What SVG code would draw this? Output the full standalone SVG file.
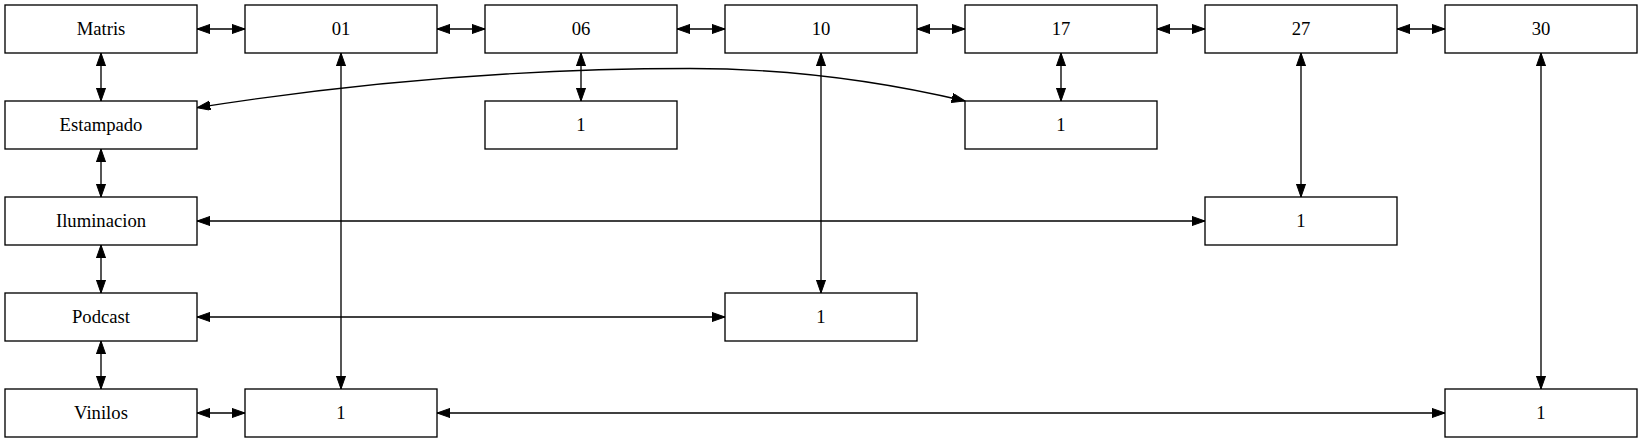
<svg xmlns="http://www.w3.org/2000/svg" width="1643" height="443" viewBox="0 0 1643 443">
<style>
.n rect{fill:#fff;stroke:#000;stroke-width:1.33}
.n text{font-family:"Liberation Serif","Times New Roman",serif;font-size:18.67px;text-anchor:middle;fill:#000}
.e path{fill:none;stroke:#000;stroke-width:1.33;marker-start:url(#ah);marker-end:url(#ah)}
</style>
<defs>
<marker id="ah" markerUnits="userSpaceOnUse" markerWidth="14" markerHeight="10" refX="13.3" refY="4.67" orient="auto-start-reverse">
<path d="M0,0 L13.3,4.67 L0,9.33 z" fill="#000" stroke="#000" stroke-width="1"/>
</marker>
</defs>
<rect width="1643" height="443" fill="#fff"/>
<g class="e" id="edges">
<path d="M197,29 H245"/>
<path d="M437,29 H485"/>
<path d="M677,29 H725"/>
<path d="M917,29 H965"/>
<path d="M1157,29 H1205"/>
<path d="M1397,29 H1445"/>
<path d="M101,53 V101"/>
<path d="M101,149 V197"/>
<path d="M101,245 V293"/>
<path d="M101,341 V389"/>
<path d="M581,53 V101"/>
<path d="M1061,53 V101"/>
<path d="M197,107.7 Q443.5,68.5 690,68.5 Q827.5,68.5 965,101"/>
<path d="M341,53 V389"/>
<path d="M821,53 V293"/>
<path d="M1301,53 V197"/>
<path d="M1541,53 V389"/>
<path d="M197,221 H1205"/>
<path d="M197,317 H725"/>
<path d="M197,413 H245"/>
<path d="M437,413 H1445"/>
</g>
<g class="n" id="matris"><rect x="5" y="5" width="192" height="48"/><text x="101" y="34.6">Matris</text></g>
<g class="n" id="n01"><rect x="245" y="5" width="192" height="48"/><text x="341" y="34.6">01</text></g>
<g class="n" id="n06"><rect x="485" y="5" width="192" height="48"/><text x="581" y="34.6">06</text></g>
<g class="n" id="n10"><rect x="725" y="5" width="192" height="48"/><text x="821" y="34.6">10</text></g>
<g class="n" id="n17"><rect x="965" y="5" width="192" height="48"/><text x="1061" y="34.6">17</text></g>
<g class="n" id="n27"><rect x="1205" y="5" width="192" height="48"/><text x="1301" y="34.6">27</text></g>
<g class="n" id="n30"><rect x="1445" y="5" width="192" height="48"/><text x="1541" y="34.6">30</text></g>
<g class="n" id="estampado"><rect x="5" y="101" width="192" height="48"/><text x="101" y="130.6">Estampado</text></g>
<g class="n" id="n06_1"><rect x="485" y="101" width="192" height="48"/><text x="581" y="130.6">1</text></g>
<g class="n" id="n17_1"><rect x="965" y="101" width="192" height="48"/><text x="1061" y="130.6">1</text></g>
<g class="n" id="iluminacion"><rect x="5" y="197" width="192" height="48"/><text x="101" y="226.6">Iluminacion</text></g>
<g class="n" id="n27_1"><rect x="1205" y="197" width="192" height="48"/><text x="1301" y="226.6">1</text></g>
<g class="n" id="podcast"><rect x="5" y="293" width="192" height="48"/><text x="101" y="322.6">Podcast</text></g>
<g class="n" id="n10_1"><rect x="725" y="293" width="192" height="48"/><text x="821" y="322.6">1</text></g>
<g class="n" id="vinilos"><rect x="5" y="389" width="192" height="48"/><text x="101" y="418.6">Vinilos</text></g>
<g class="n" id="n01_1"><rect x="245" y="389" width="192" height="48"/><text x="341" y="418.6">1</text></g>
<g class="n" id="n30_1"><rect x="1445" y="389" width="192" height="48"/><text x="1541" y="418.6">1</text></g>
</svg>
